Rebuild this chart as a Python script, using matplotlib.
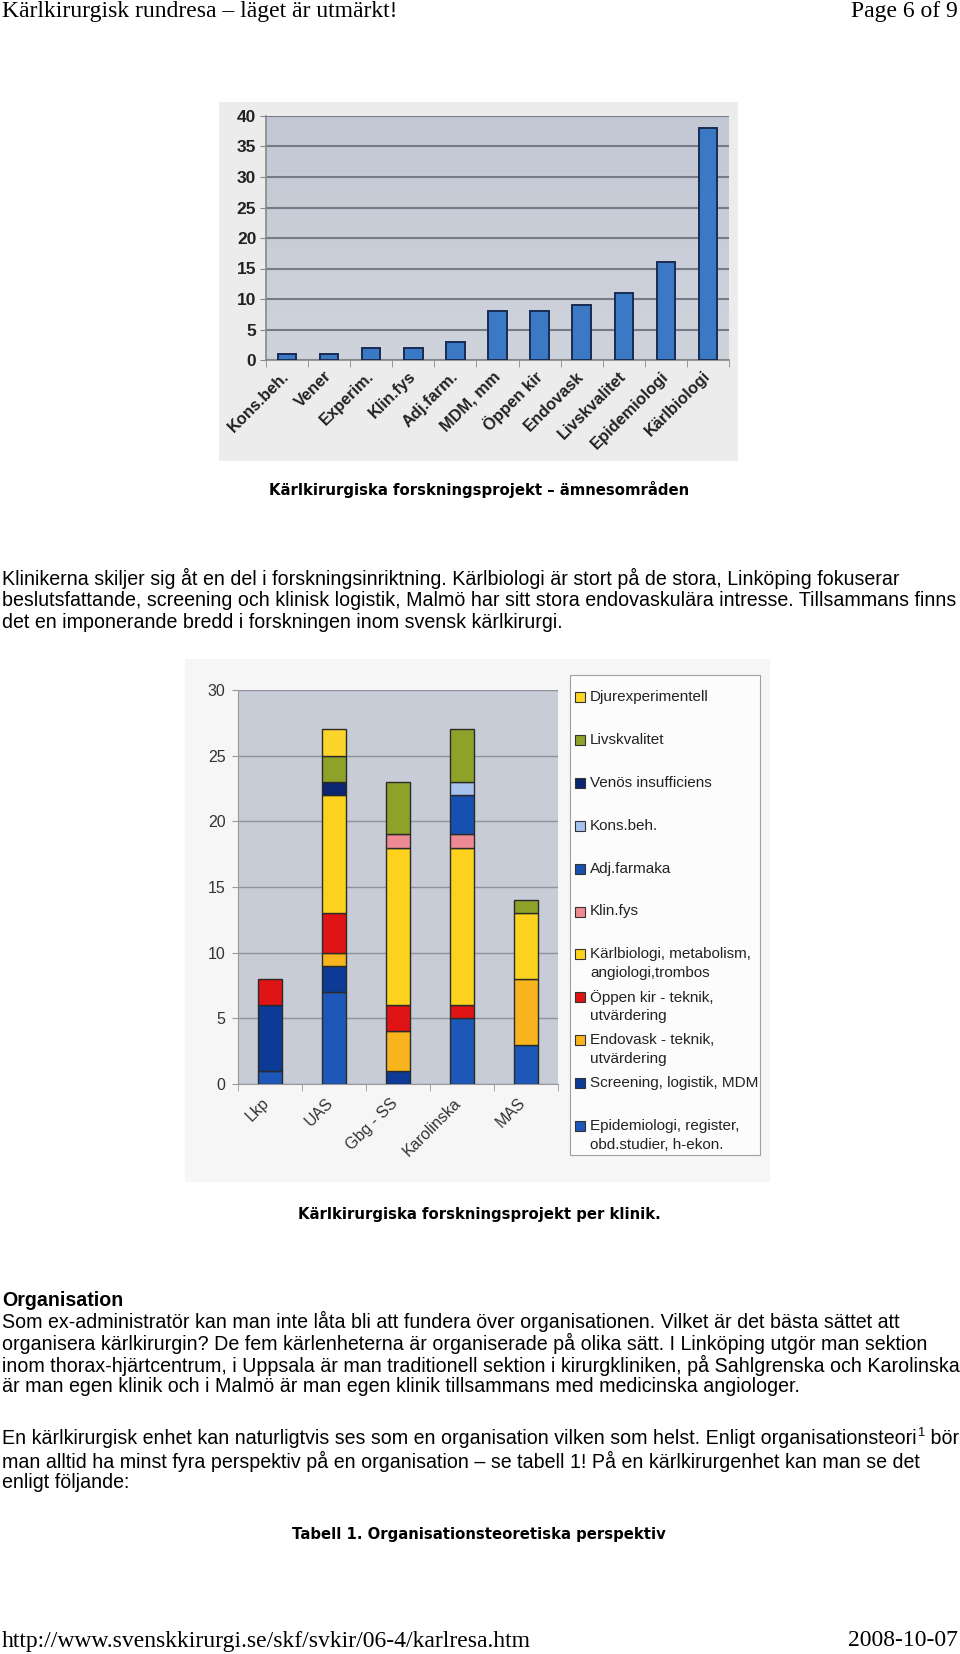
import numpy as np
import matplotlib
matplotlib.use("Agg")
import matplotlib.pyplot as plt
from matplotlib.patches import Rectangle
from matplotlib.colors import LinearSegmentedColormap
from matplotlib.transforms import ScaledTranslation

# ---------------- data ----------------
# Chart 1: research topics
topics = ["Kons.beh.", "Vener", "Experim.", "Klin.fys", "Adj.farm.", "MDM, mm",
          "Öppen kir", "Endovask", "Livskvalitet", "Epidemiologi", "Kärlbiologi"]
topic_counts = [1, 1, 2, 2, 3, 8, 8, 9, 11, 16, 38]
y1_ticks = [0, 5, 10, 15, 20, 25, 30, 35, 40]

# Chart 2: projects per clinic (stacked, bottom -> top)
clinics = ["Lkp", "UAS", "Gbg - SS", "Karolinska", "MAS"]
epidemiologi = [1, 7, 0, 5, 3]
screening = [5, 2, 1, 0, 0]
endovask = [0, 1, 3, 0, 5]
oppen_kir = [2, 3, 2, 1, 0]
karlbiologi = [0, 9, 12, 12, 5]
klin_fys = [0, 0, 1, 1, 0]
adj_farmaka = [0, 0, 0, 3, 0]
kons_beh = [0, 0, 0, 1, 0]
venos = [0, 1, 0, 0, 0]
livskvalitet = [0, 2, 4, 4, 1]
djurexperimentell = [0, 2, 0, 0, 0]
series_labels = ["Epidemiologi, register,\nobd.studier, h-ekon.",
                 "Screening, logistik, MDM",
                 "Endovask - teknik,\nutvärdering",
                 "Öppen kir - teknik,\nutvärdering",
                 "Kärlbiologi, metabolism,\nangiologi,trombos",
                 "Klin.fys",
                 "Adj.farmaka",
                 "Kons.beh.",
                 "Venös insufficiens",
                 "Livskvalitet",
                 "Djurexperimentell"]
series_values = [epidemiologi, screening, endovask, oppen_kir, karlbiologi, klin_fys,
                 adj_farmaka, kons_beh, venos, livskvalitet, djurexperimentell]
series_colors = ["#1d57b8", "#0c3a96", "#f8b41c", "#e01414", "#fdd21e", "#ee8b92",
                 "#1650b0", "#a8c2ee", "#0c2570", "#8ea22a", "#fdd42a"]
y2_ticks = [0, 5, 10, 15, 20, 25, 30]

# ---------------- page texts ----------------
header_left = "Kärlkirurgisk rundresa – läget är utmärkt!"
header_right = "Page 6 of 9"
caption1 = "Kärlkirurgiska forskningsprojekt – ämnesområden"
para1 = ["Klinikerna skiljer sig åt en del i forskningsinriktning. Kärlbiologi är stort på de stora, Linköping fokuserar",
         "beslutsfattande, screening och klinisk logistik, Malmö har sitt stora endovaskulära intresse. Tillsammans finns",
         "det en imponerande bredd i forskningen inom svensk kärlkirurgi."]
caption2 = "Kärlkirurgiska forskningsprojekt per klinik."
heading = "Organisation"
para2 = ["Som ex-administratör kan man inte låta bli att fundera över organisationen. Vilket är det bästa sättet att",
         "organisera kärlkirurgin? De fem kärlenheterna är organiserade på olika sätt. I Linköping utgör man sektion",
         "inom thorax-hjärtcentrum, i Uppsala är man traditionell sektion i kirurgkliniken, på Sahlgrenska och Karolinska",
         "är man egen klinik och i Malmö är man egen klinik tillsammans med medicinska angiologer."]
para3_first = ("En kärlkirurgisk enhet kan naturligtvis ses som en organisation vilken som helst. Enligt organisationsteori",
               "1", " bör")
para3 = ["man alltid ha minst fyra perspektiv på en organisation – se tabell 1! På en kärlkirurgenhet kan man se det",
         "enligt följande:"]
caption3 = "Tabell 1. Organisationsteoretiska perspektiv"
footer_left = "http://www.svenskkirurgi.se/skf/svkir/06-4/karlresa.htm"
footer_right = "2008-10-07"

# ---------------- figure ----------------
W, H = 960, 1654
fig = plt.figure(figsize=(W / 100, H / 100), dpi=100)
fig.patch.set_facecolor("white")
renderer = fig.canvas.get_renderer()


def rect(x0, y0, x1, y1):
    return [x0 / W, 1 - y1 / H, (x1 - x0) / W, (y1 - y0) / H]


def ftext(x, y, s, **kw):
    return fig.text(x / W, 1 - y / H, s, **kw)


def fit_size(s, target, base=12, **kw):
    t = fig.text(0, 0, s, fontsize=base, **kw)
    w = t.get_window_extent(renderer).width
    t.remove()
    return base * target / w


SANS = "Liberation Sans"
SERIF = "Liberation Serif"
VERD = "DejaVu Sans"

# header / footer
hs = fit_size(header_left, 394, family=SERIF)
ftext(2, 12, header_left, family=SERIF, fontsize=hs, va="center", ha="left")
ftext(958, 12, header_right, family=SERIF, fontsize=hs, va="center", ha="right")
ftext(2, 1641, footer_left, family=SERIF, fontsize=hs, va="center", ha="left")
ftext(958, 1641, footer_right, family=SERIF, fontsize=hs, va="center", ha="right")

# ---------------- chart 1 ----------------
fig.add_artist(Rectangle((219 / W, 1 - 461 / H), (738 - 219) / W, (461 - 102) / H,
                         transform=fig.transFigure, facecolor="#ececec",
                         edgecolor="none", zorder=0))
ax1 = fig.add_axes(rect(266, 116, 729, 360))
n1 = len(topics)
cm1 = LinearSegmentedColormap.from_list("bg1", ["#cfd3dc", "#c2c8d4"])
ax1.imshow(np.linspace(0, 1, 256).reshape(-1, 1), extent=(-0.5, n1 - 0.5, 0, 40),
           aspect="auto", cmap=cm1, origin="lower", zorder=0)
ax1.bar(np.arange(n1), topic_counts, width=0.44, color="#3b79c4",
        edgecolor="#1a2b52", linewidth=1.4, zorder=3)
ax1.set_xlim(-0.5, n1 - 0.5)
ax1.set_ylim(0, 40)
ax1.set_yticks(y1_ticks)
ax1.set_yticklabels([str(v) for v in y1_ticks], family=SANS, fontsize=12.5,
                    weight="bold", color="#222222")
ax1.yaxis.grid(True, color="#767b85", linewidth=1.5, zorder=1)
ax1.set_axisbelow(True)
ax1.tick_params(axis="y", length=4, color="#888888", pad=3)
ax1.set_xticks(np.arange(n1))
ax1.set_xticklabels(topics, rotation=45, ha="right", va="center",
                    rotation_mode="anchor", family=SANS, fontsize=11.8,
                    weight="bold", color="#222222")
ax1.tick_params(axis="x", which="major", length=0, pad=10)
ax1.set_xticks(np.arange(-0.5, n1), minor=True)
ax1.tick_params(axis="x", which="minor", length=5, color="#888888")
for lab in ax1.get_xticklabels():
    lab.set_transform(lab.get_transform() + ScaledTranslation(0.0, 0, fig.dpi_scale_trans))
for s in ["top", "right"]:
    ax1.spines[s].set_visible(False)
for s in ["left", "bottom"]:
    ax1.spines[s].set_color("#888888")
    ax1.spines[s].set_linewidth(1.2)

# caption 1
cs = fit_size(caption1, 420, family=VERD, weight="bold")
ftext(479, 490, caption1, family=VERD, weight="bold", fontsize=cs, ha="center", va="center")

# paragraph 1
ps = fit_size(para1[0], 893, family=SANS)
for i, line in enumerate(para1):
    ftext(2, 578 + i * 22, line, family=SANS, fontsize=ps, ha="left", va="center")

# ---------------- chart 2 ----------------
fig.add_artist(Rectangle((185 / W, 1 - 1182 / H), (770 - 185) / W, (1182 - 659) / H,
                         transform=fig.transFigure, facecolor="#f6f6f6",
                         edgecolor="none", zorder=0))
ax2 = fig.add_axes(rect(238, 690, 558, 1084))
ax2.set_facecolor("#c8ccd6")
n2 = len(clinics)
x2 = np.arange(n2)
bottom = np.zeros(n2)
for vals, col in zip(series_values, series_colors):
    vals = np.array(vals, dtype=float)
    m = vals > 0
    ax2.bar(x2[m], vals[m], bottom=bottom[m], width=0.39, color=col,
            edgecolor="#2a2a2a", linewidth=1.0, zorder=3)
    bottom += vals
ax2.set_xlim(-0.5, n2 - 0.5)
ax2.set_ylim(0, 30)
ax2.set_yticks(y2_ticks)
ax2.set_yticklabels([str(v) for v in y2_ticks], family=SANS, fontsize=11.5, color="#333333")
ax2.yaxis.grid(True, color="#8e929b", linewidth=1.0)
ax2.set_axisbelow(True)
ax2.tick_params(axis="y", length=4, color="#999999", pad=5)
ax2.set_xticks(x2)
ax2.set_xticklabels(clinics, rotation=45, ha="right", va="center",
                    rotation_mode="anchor", family=SANS, fontsize=11.5, color="#333333")
ax2.tick_params(axis="x", which="major", length=0, pad=12)
ax2.set_xticks(np.arange(-0.5, n2), minor=True)
ax2.tick_params(axis="x", which="minor", length=5, color="#999999")
for lab in ax2.get_xticklabels():
    lab.set_transform(lab.get_transform() + ScaledTranslation(-0.03, 0, fig.dpi_scale_trans))
for s in ["top", "right"]:
    ax2.spines[s].set_visible(False)
for s in ["left", "bottom"]:
    ax2.spines[s].set_color("#999999")

# legend (manual, Excel style)
fig.add_artist(Rectangle((570 / W, 1 - 1155 / H), (760 - 570) / W, (1155 - 675) / H,
                         transform=fig.transFigure, facecolor="#fcfcfc",
                         edgecolor="#a0a0a0", linewidth=0.8, zorder=1))
y0, step = 697, 42.9
for k, (lab, col) in enumerate(zip(series_labels[::-1], series_colors[::-1])):
    yy = y0 + k * step
    fig.add_artist(Rectangle((575 / W, 1 - (yy + 5) / H), 10 / W, 10 / H,
                             transform=fig.transFigure, facecolor=col,
                             edgecolor="#333333", linewidth=0.8, zorder=2))
    for j, part in enumerate(lab.split("\n")):
        ftext(590, yy + j * 19, part, family=SANS, fontsize=11, color="#222222",
              ha="left", va="center", zorder=2)

# caption 2
ftext(479, 1214, caption2, family=VERD, weight="bold", fontsize=cs, ha="center", va="center")

# heading + paragraphs
ftext(2, 1300, heading, family=SANS, weight="bold", fontsize=ps, ha="left", va="center")
for i, line in enumerate(para2):
    ftext(2, 1321 + i * 22, line, family=SANS, fontsize=ps, ha="left", va="center")

# paragraph 3, first line with superscript
t0 = ftext(2, 1439, para3_first[0], family=SANS, fontsize=ps, ha="left", va="center")
x_end = t0.get_window_extent(renderer).x1
t1 = ftext(x_end + 1, 1433, para3_first[1], family=SANS, fontsize=ps * 0.65, ha="left", va="center")
x_end2 = t1.get_window_extent(renderer).x1
ftext(x_end2, 1439, para3_first[2], family=SANS, fontsize=ps, ha="left", va="center")
for i, line in enumerate(para3):
    ftext(2, 1461 + i * 22, line, family=SANS, fontsize=ps, ha="left", va="center")

ftext(479, 1534, caption3, family=VERD, weight="bold", fontsize=cs, ha="center", va="center")

fig.savefig("out.png", dpi=100, facecolor="white")
